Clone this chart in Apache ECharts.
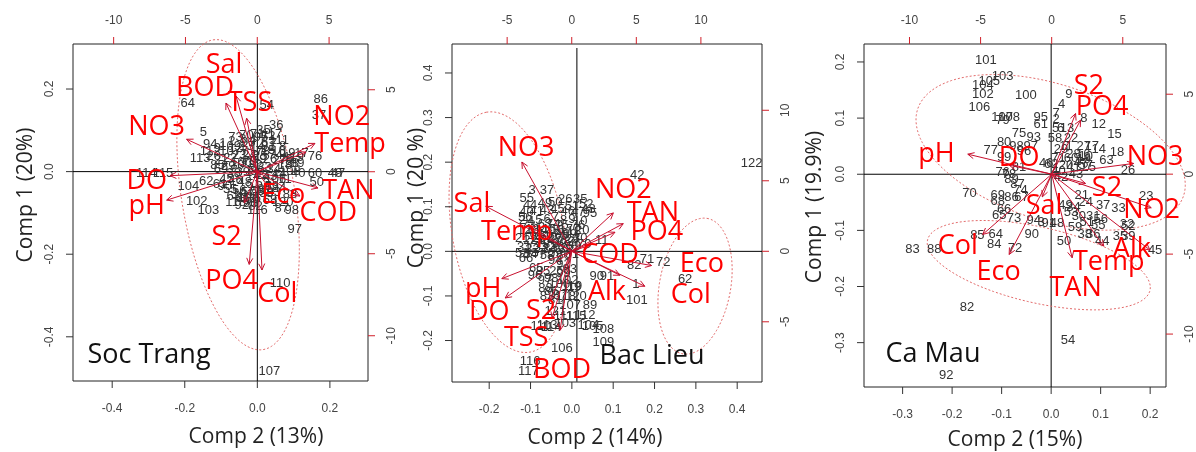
<!DOCTYPE html>
<html><head><meta charset="utf-8">
<script src="https://cdn.jsdelivr.net/npm/echarts@6/dist/echarts.min.js"></script>
<style>html,body{margin:0;padding:0;background:#fff}#c{width:1196px;height:452px}</style>
</head><body><div id="c"></div>
<script>
// ---------------- Soc Trang ----------------
const stName = 'Soc Trang', stTitleX = 'Comp 2 (13%)', stTitleY = 'Comp 1 (20%)';
const stBottomTicks = [-0.4, -0.2, 0, 0.2], stLeftTicks = [-0.4, -0.2, 0, 0.2];
const stTopTicks = [-10, -5, 0, 5], stRightTicks = [-10, -5, 0, 5];
const stPoints = [
 [64,-0.192,0.164],[54,0.026,0.161],[86,0.175,0.174],[37,0.170,0.137],[36,0.052,0.111],[35,0.017,0.099],[5,-0.149,0.094],
 [113,-0.158,0.032],[114,-0.306,-0.004],[115,-0.26,-0.004],[104,-0.190,-0.036],[62,-0.141,-0.024],[61,-0.103,-0.032],
 [102,-0.167,-0.073],[103,-0.135,-0.093],[92,-0.043,-0.081],[40,0.113,-0.004],[60,0.159,-0.004],[49,0.214,-0.004],[47,0.222,-0.004],
 [76,0.159,0.036],[17,0.122,0.044],[18,0.076,0.016],[50,0.164,-0.027],[97,0.103,-0.139],[98,0.095,-0.093],[87,0.067,-0.089],
 [110,0.063,-0.27],[107,0.033,-0.483],[105,-0.025,-0.062],[11,0.076,-0.02],[116,0.0,-0.095],[96,-0.02,-0.078],
 [1,-0.095,0.068],[2,-0.07,0.072],[3,-0.04,0.078],[4,-0.012,0.075],[6,0.02,0.07],[7,0.045,0.068],[8,0.07,0.062],[9,-0.11,0.055],
 [10,-0.085,0.05],[12,-0.06,0.056],[13,-0.03,0.06],[14,0.0,0.058],[15,0.03,0.052],[16,0.058,0.048],[19,0.085,0.045],[20,-0.12,0.036],
 [21,-0.1,0.028],[22,-0.075,0.032],[23,-0.05,0.038],[24,-0.022,0.04],[25,0.008,0.036],[26,0.035,0.03],[27,0.062,0.028],[28,0.095,0.02],
 [29,-0.08,0.012],[30,-0.055,0.016],[31,-0.03,0.02],[32,-0.005,0.014],[33,0.02,0.01],[34,0.045,0.006],[38,-0.065,-0.004],[39,-0.04,-0.002],
 [41,-0.015,-0.006],[42,0.01,-0.01],[43,0.035,-0.012],[44,0.06,-0.008],[45,-0.085,-0.018],[46,-0.06,-0.022],[48,-0.035,-0.026],
 [51,-0.01,-0.03],[52,0.015,-0.028],[53,0.04,-0.035],[55,-0.075,-0.042],[56,-0.05,-0.046],[57,-0.025,-0.05],[58,0.0,-0.048],
 [59,0.025,-0.054],[63,-0.065,-0.06],[65,-0.04,-0.064],[66,-0.015,-0.068],[67,0.01,-0.064],[68,0.035,-0.07],[69,-0.1,0.005],
 [70,-0.03,0.088],[71,0.0,0.09],[72,0.03,0.085],[73,-0.06,0.083],[74,0.05,0.04],[75,0.08,0.03],[77,-0.045,0.05],[78,0.015,0.048],
 [79,-0.02,0.024],[80,0.0,0.0],[81,0.02,-0.042],[82,-0.005,-0.085],[83,0.045,-0.05],[84,0.06,-0.04],[85,-0.11,0.015],[88,0.09,-0.055],
 [89,0.11,0.02],[90,-0.09,-0.035],[91,0.03,0.06],[93,-0.025,0.07],[94,-0.13,0.065],[95,0.01,0.082],[99,0.005,0.03],[100,-0.045,0.022],
 [101,-0.04,-0.055],[106,0.05,-0.02],[108,0.09,0.0],[109,-0.075,0.06],[111,0.06,0.075],[112,-0.13,0.05],[117,0.04,0.09],
 [118,-0.06,-0.075],[119,0.1,0.035],[120,0.07,-0.075]
];
const stLoadings = [
 ['Sal',-1.48,4.62],['BOD',-2.18,4.19],['TSS',-0.74,3.26],['NO3',-4.92,1.98],['NO2',4.02,1.73],['Temp',3.39,1.20],
 ['DO',-6.08,-0.24],['pH',-6.31,-1.73],['Eco',0.9,-1.1],['TAN',4.23,-0.99],['COD',2.97,-1.48],['S2',-0.9,-1.9],
 ['PO4',-0.56,-5.65],['Col',0.33,-5.99]
];
const stLabelPos = [
 ['Sal',-2.32,6.51],['BOD',-3.64,5.09],['TSS',-0.51,4.17],['NO3',-7.01,2.74],['NO2',5.88,3.32],['Temp',6.46,1.69],
 ['DO',-7.70,-0.61],['pH',-7.70,-2.13],['Eco',1.81,-1.42],['TAN',6.34,-1.22],['COD',4.94,-2.54],['S2',-2.13,-4.02],
 ['PO4',-1.78,-6.66],['Col',1.39,-7.48]
];
// ellipse: centre x, centre y, half-axis a (x,y), half-axis b (x,y)
const stEllipses = [[-0.053,-0.056,-0.069,0.375,0.154,0.022]];

// ---------------- Bac Lieu ----------------
const blName = 'Bac Lieu', blTitleX = 'Comp 2 (14%)', blTitleY = 'Comp 1 (20 %)';
const blBottomTicks = [-0.2,-0.1,0,0.1,0.2,0.3,0.4], blLeftTicks = [-0.2,-0.1,0,0.1,0.2,0.3,0.4];
const blTopTicks = [-5,0,5,10], blRightTicks = [-5,0,5,10];
const blPoints = [
 [122,0.435,0.197],[42,0.158,0.170],[3,-0.096,0.137],[37,-0.06,0.137],[55,-0.109,0.118],[26,-0.016,0.116],[35,0.02,0.116],
 [44,-0.101,0.103],[95,0.044,0.085],[56,-0.113,0.077],[11,0.072,0.025],[66,-0.111,-0.016],[94,-0.04,-0.02],[65,-0.086,-0.039],
 [96,-0.089,-0.054],[25,-0.037,-0.046],[82,0.151,-0.032],[71,0.182,-0.018],[72,0.221,-0.025],[62,0.274,-0.063],[90,0.06,-0.056],
 [91,0.085,-0.056],[1,0.155,-0.075],[101,0.157,-0.11],[119,0.0,-0.078],[89,0.044,-0.122],[108,0.076,-0.176],[109,0.076,-0.204],
 [106,-0.024,-0.217],[116,-0.101,-0.247],[117,-0.105,-0.269],[104,0.04,-0.166],[103,-0.016,-0.162],[113,-0.06,-0.166],
 [112,0.032,-0.143],[107,-0.004,-0.121],[87,-0.028,-0.099],[88,-0.064,-0.084],[114,-0.05,-0.17],[110,-0.075,-0.168],
 [111,-0.02,-0.145],[105,0.05,-0.168],[115,0.01,-0.146],[19,0.005,-0.08],[86,-0.05,-0.09],[83,-0.06,-0.1],[81,-0.04,-0.11],
 [85,-0.07,-0.045],[99,-0.02,-0.05],
 [2,-0.12,0.07],[4,-0.1,0.068],[5,-0.08,0.07],[6,-0.06,0.072],[7,-0.04,0.075],[8,-0.02,0.07],[9,0.0,0.072],[10,0.02,0.068],
 [12,-0.115,0.048],[13,-0.095,0.05],[14,-0.075,0.047],[15,-0.055,0.05],[16,-0.035,0.046],[17,-0.015,0.05],[18,0.005,0.045],[20,0.025,0.048],
 [21,-0.12,0.028],[22,-0.1,0.025],[23,-0.08,0.028],[24,-0.06,0.024],[27,-0.04,0.027],[28,-0.02,0.023],[29,0.0,0.026],[30,0.02,0.03],
 [31,-0.115,0.008],[32,-0.095,0.005],[33,-0.075,0.009],[34,-0.055,0.004],[36,-0.035,0.008],[38,-0.015,0.005],[39,0.005,0.01],
 [40,-0.11,0.088],[41,-0.085,0.09],[43,-0.06,0.092],[45,-0.035,0.094],[46,-0.01,0.09],[47,0.015,0.088],[48,0.04,0.094],
 [49,-0.065,0.108],[50,-0.04,0.11],[51,0.0,0.1],[52,0.035,0.105],
 [53,-0.12,-0.005],[54,-0.1,-0.008],[57,-0.08,-0.004],[58,-0.06,-0.01],[59,-0.04,-0.005],[60,-0.02,-0.01],[61,0.0,-0.006],
 [63,-0.065,0.06],[64,-0.085,0.038],[67,-0.045,0.038],[68,-0.025,0.036],[69,-0.005,0.038],[70,0.03,0.015],[73,-0.105,0.058],
 [74,-0.045,0.06],[75,-0.025,0.058],[76,0.015,0.058],[77,-0.09,0.018],[78,-0.07,0.016],[79,-0.05,0.016],[80,-0.03,0.018],[84,-0.01,0.016],
 [92,-0.02,-0.03],[93,-0.005,-0.04],[97,-0.065,-0.065],[98,-0.05,-0.06],[100,-0.03,-0.075],[102,-0.01,-0.065],[118,-0.015,-0.1],
 [120,0.01,-0.1],[121,-0.04,-0.135]
];
const blLoadings = [
 ['NO3',-3.86,6.33],['Sal',-6.65,3.19],['Temp',-3.3,1.8],['pH',-5.41,-1.94],['DO',-5.15,-3.31],['S2',-1.68,-3.48],
 ['TSS',-1.52,-4.75],['BOD',-0.9,-5.6],['NO2',3.22,2.72],['TAN',3.99,1.96],['PO4',3.35,1.35],['COD',1.42,0.43],
 ['Eco',6.18,-1.01],['Col',5.66,-2.48],['Alk',3.73,-1.7]
];
const blLabelPos = [
 ['NO3',-3.53,7.28],['Sal',-7.73,3.33],['Temp',-4.25,1.37],['pH',-6.85,-2.70],['DO',-6.39,-4.33],['S2',-2.37,-4.26],
 ['TSS',-3.53,-6.17],['BOD',-0.75,-8.44],['NO2',3.99,4.33],['TAN',6.28,2.70],['PO4',6.59,1.35],['COD',2.96,-0.28],
 ['Eco',10.07,-0.92],['Col',9.22,-3.12],['Alk',2.73,-2.91]
];
const blEllipses = [[-0.154,0.043,-0.053,0.269,0.133,0.022],[0.298,-0.078,0.029,0.152,0.085,-0.013]];

// ---------------- Ca Mau ----------------
const cmName = 'Ca Mau', cmTitleX = 'Comp 2 (15%)', cmTitleY = 'Comp 1 (19.9%)';
const cmBottomTicks = [-0.3,-0.2,-0.1,0,0.1,0.2], cmLeftTicks = [-0.3,-0.2,-0.1,0,0.1,0.2];
const cmTopTicks = [-10,-5,0,5], cmRightTicks = [-10,-5,0,5];
const cmPoints = [
 [101,-0.132,0.202],[103,-0.098,0.174],[105,-0.125,0.165],[104,-0.138,0.158],[102,-0.138,0.142],[100,-0.051,0.141],
 [106,-0.145,0.119],[107,-0.099,0.102],[108,-0.085,0.102],[79,-0.098,0.095],[95,-0.021,0.102],[61,-0.021,0.089],
 [9,0.036,0.142],[4,0.021,0.125],[7,0.01,0.108],[2,0.01,0.097],[8,0.066,0.099],[12,0.096,0.089],[15,0.128,0.071],
 [75,-0.065,0.072],[93,-0.035,0.065],[80,-0.095,0.057],[77,-0.122,0.043],[97,-0.041,0.05],[14,0.096,0.044],[18,0.133,0.039],
 [63,0.112,0.025],[26,0.155,0.007],[25,0.076,0.013],[76,-0.098,0.004],[70,-0.165,-0.034],[87,-0.068,-0.018],[74,-0.062,-0.028],
 [69,-0.108,-0.037],[68,-0.108,-0.049],[86,-0.08,-0.041],[67,-0.06,-0.042],[65,-0.105,-0.073],[23,0.192,-0.039],[33,0.136,-0.061],
 [21,0.062,-0.038],[32,0.153,-0.089],[85,-0.149,-0.109],[64,-0.112,-0.107],[84,-0.115,-0.125],[72,-0.073,-0.133],[90,-0.039,-0.107],
 [83,-0.28,-0.134],[88,-0.236,-0.134],[50,0.026,-0.119],[38,0.068,-0.107],[36,0.085,-0.107],[44,0.103,-0.119],[35,0.139,-0.11],
 [39,0.156,-0.11],[45,0.21,-0.135],[52,0.156,-0.093],[82,-0.17,-0.237],[54,0.034,-0.296],[92,-0.212,-0.358],[49,0.029,-0.055],
 [30,0.056,-0.076],[51,0.072,-0.086],[48,0.012,-0.088],[34,0.045,-0.06],[53,0.04,-0.068],[24,0.07,-0.05],[31,0.085,-0.075],
 [66,-0.095,-0.062],[73,-0.075,-0.078],[3,-0.02,-0.085],[91,-0.005,-0.088],[94,-0.035,-0.082],[5,0.009,0.081],[6,0.019,0.081],
 [13,0.032,0.081],[58,0.008,0.064],[22,0.04,0.064],[27,0.066,0.049],[17,0.082,0.05],[11,0.03,0.05],[16,0.065,0.036],[19,0.066,0.026],
 [10,0.07,0.031],[1,0.01,0.01],[20,0.03,0.016],[62,0.0,0.018],[40,0.015,0.005],[41,0.045,0.012],[42,0.02,-0.005],[43,0.05,0.0],
 [46,-0.01,0.02],[47,0.06,0.02],[57,0.07,0.015],[60,0.04,0.028],[71,0.015,0.028],[81,-0.065,0.013],[78,-0.085,0.0],[89,-0.08,-0.01],
 [96,-0.055,0.04],[98,-0.07,0.05],[99,-0.095,0.03],[28,0.045,0.035],[29,0.02,0.045],[37,0.105,-0.055],[55,0.095,-0.092],
 [59,0.048,-0.095],[56,0.1,-0.08]
];
const cmLoadings = [
 ['pH',-5.9,1.25],['DO',-2.99,0.56],['S2',1.68,3.79],['PO4',2.03,3.38],['NO3',5.76,0.67],['S2',2.38,-0.58],['NO2',7.0,-2.1],
 ['Alk',6.92,-4.75],['Temp',3.66,-4.5],['TAN',1.44,-5.23],['Sal',-0.66,-1.42],['Col',-4.85,-3.77],['Eco',-2.99,-5.02]
];
const cmLabelPos = [
 ['pH',-8.11,1.25],['DO',-2.29,0.98],['S2',2.61,5.5],['PO4',3.54,4.17],['NO3',7.27,1.04],['S2',3.89,-0.89],['NO2',7.03,-2.25],
 ['Alk',5.64,-4.71],['Temp',4.01,-5.54],['TAN',1.68,-7.11],['Sal',-0.54,-2.04],['Col',-6.6,-4.5],['Eco',-3.73,-6.13]
];
const cmEllipses = [[-0.001,0.039,0.269,-0.039,-0.040,0.133],[-0.025,-0.162,0.225,-0.036,-0.012,0.071]];

// ---------------- layout (not data) ----------------
const PANELS = [
 {name:stName, tx:stTitleX, ty:stTitleY, pts:stPoints, load:stLoadings, lab:stLabelPos, ell:stEllipses,
  bt:stBottomTicks, lt:stLeftTicks, tt:stTopTicks, rt:stRightTicks,
  grid:{left:73,top:44,width:295,height:337}, px:[-0.508,0.305], py:[-0.507,0.309], sx:[-12.83,7.71], sy:[-12.76,7.79],
  vline:0, vcol:'#000', vw:1, vtopGap:0, titleXPos:[256,437], titleYPos:[26,195], namePos:[149,355]},
 {name:blName, tx:blTitleX, ty:blTitleY, pts:blPoints, load:blLoadings, lab:blLabelPos, ell:blEllipses,
  bt:blBottomTicks, lt:blLeftTicks, tt:blTopTicks, rt:blRightTicks,
  grid:{left:452,top:44,width:310,height:338}, px:[-0.290,0.460], py:[-0.293,0.465], sx:[-9.27,14.73], sy:[-9.27,14.70],
  vline:0.012, vcol:'#555', vw:1.5, vtopGap:4, titleXPos:[595,438], titleYPos:[417,198], namePos:[652,356]},
 {name:cmName, tx:cmTitleX, ty:cmTitleY, pts:cmPoints, load:cmLoadings, lab:cmLabelPos, ell:cmEllipses,
  bt:cmBottomTicks, lt:cmLeftTicks, tt:cmTopTicks, rt:cmRightTicks,
  grid:{left:864,top:44,width:304,height:343}, px:[-0.378,0.232], py:[-0.379,0.232], sx:[-13.2,8.04], sy:[-13.31,8.14],
  vline:0, vcol:'#000', vw:1, vtopGap:0, titleXPos:[1015,440], titleYPos:[815,207], namePos:[933,354]}
];

const TICKFONT = '"Liberation Sans", Arial, sans-serif';
const TITLEFONT = '"Open Sans", "Noto Sans", sans-serif';
const RED = '#ff0000', ARROW = '#c8102e', ELL = '#e36b6b', TICKRED = '#d0202a', TICKBLK = '#333';
const TL = 7;

const grids = [], xAxes = [], yAxes = [], series = [], graphics = [];
const f1 = v => (Math.abs(v) < 1e-9 ? 0 : v).toFixed(1);
const f0 = v => String(Math.round(v));

// tick marks: the tick value is placed through the axis scale, the other end sits on the plot frame
function tickSeries(xi, yi, values, side, color) {
  return {type:'custom', xAxisIndex:xi, yAxisIndex:yi, silent:true, z:6, clip:false,
    data:values.map(v => [v]), dimensions:['v'],
    renderItem:(params, api) => {
      const cs = params.coordSys, v = api.value(0);
      let x1, y1, x2, y2;
      if (side === 'bottom') { x1 = x2 = api.coord([v, 0])[0]; y1 = cs.y + cs.height; y2 = y1 + TL; }
      else if (side === 'top') { x1 = x2 = api.coord([v, 0])[0]; y1 = cs.y; y2 = y1 - TL; }
      else if (side === 'left') { y1 = y2 = api.coord([0, v])[1]; x1 = cs.x; x2 = x1 - TL; }
      else { y1 = y2 = api.coord([0, v])[1]; x1 = cs.x + cs.width; x2 = x1 + TL; }
      return {type:'line', shape:{x1, y1, x2, y2}, style:{stroke:color, lineWidth:1}};
    }};
}

PANELS.forEach((P, i) => {
  grids.push(Object.assign({show:true, borderColor:'#222', borderWidth:1, backgroundColor:'transparent'}, P.grid));
  const xb = 2*i, xt = 2*i+1;
  const common = (ticks, fmt, margin, rot) => ({
    axisLine:{show:false, onZero:false}, splitLine:{show:false}, axisTick:{show:false}, minorTick:{show:false},
    axisLabel:{show:true, customValues:ticks, formatter:fmt, color:'#444', fontSize:12, fontFamily:TICKFONT, margin:margin, rotate:rot}
  });
  xAxes.push(Object.assign({gridIndex:i, type:'value', position:'bottom', min:P.px[0], max:P.px[1]}, common(P.bt, f1, 22, 0)));
  xAxes.push(Object.assign({gridIndex:i, type:'value', position:'top', min:P.sx[0], max:P.sx[1]}, common(P.tt, f0, 17, 0)));
  yAxes.push(Object.assign({gridIndex:i, type:'value', position:'left', min:P.py[0], max:P.py[1]}, common(P.lt, f1, 17, 90)));
  yAxes.push(Object.assign({gridIndex:i, type:'value', position:'right', min:P.sy[0], max:P.sy[1]}, common(P.rt, f0, 18, 90)));

  series.push(tickSeries(xb, xb, P.bt, 'bottom', TICKBLK));
  series.push(tickSeries(xb, xb, P.lt, 'left', TICKBLK));
  series.push(tickSeries(xt, xt, P.tt, 'top', TICKRED));
  series.push(tickSeries(xt, xt, P.rt, 'right', TICKRED));

  // reference lines through origin, spanning the plot frame
  series.push({type:'custom', xAxisIndex:xb, yAxisIndex:xb, silent:true, z:1, data:[[0,0]],
    renderItem:(params, api) => {
      const cs = params.coordSys, o = api.coord([P.vline, 0]), h = api.coord([0, 0]);
      return {type:'group', children:[
        {type:'line', shape:{x1:cs.x, y1:h[1], x2:cs.x+cs.width, y2:h[1]}, style:{stroke:'#000', lineWidth:1}},
        {type:'line', shape:{x1:o[0], y1:cs.y+P.vtopGap, x2:o[0], y2:cs.y+cs.height}, style:{stroke:P.vcol, lineWidth:P.vw}}
      ]};
    }});

  // ellipses
  series.push({type:'custom', xAxisIndex:xb, yAxisIndex:xb, silent:true, z:2, clip:false,
    data:P.ell.map(e => [e[0], e[1]]), encode:{x:0,y:1},
    renderItem:(params, api) => {
      const e = P.ell[params.dataIndex]; const pts = [];
      for (let k = 0; k <= 120; k++) {
        const t = k/120*2*Math.PI;
        pts.push(api.coord([e[0]+e[2]*Math.cos(t)+e[4]*Math.sin(t), e[1]+e[3]*Math.cos(t)+e[5]*Math.sin(t)]));
      }
      return {type:'polyline', shape:{points:pts}, style:{stroke:ELL, lineWidth:1, lineDash:[2,2], fill:null}};
    }});

  // observation numbers
  series.push({type:'custom', xAxisIndex:xb, yAxisIndex:xb, silent:true, z:3,
    data:P.pts.map(p => [p[1], p[2]]), encode:{x:0,y:1},
    renderItem:(params, api) => {
      const c = api.coord([api.value(0), api.value(1)]);
      return {type:'text', x:c[0], y:c[1], style:{text:String(P.pts[params.dataIndex][0]), fill:'#333',
        fontSize:13, fontFamily:TICKFONT, align:'center', verticalAlign:'middle'}};
    }});

  // loading arrows (secondary axes)
  series.push({type:'custom', xAxisIndex:xt, yAxisIndex:xt, silent:true, z:4, clip:false,
    data:P.load.map(l => [l[1], l[2]]), encode:{x:0,y:1},
    renderItem:(params, api) => {
      const o = api.coord([0,0]), t = api.coord([api.value(0), api.value(1)]);
      const ang = Math.atan2(t[1]-o[1], t[0]-o[0]), L = 7, A = Math.PI/7;
      const h1 = [t[0]-L*Math.cos(ang-A), t[1]-L*Math.sin(ang-A)];
      const h2 = [t[0]-L*Math.cos(ang+A), t[1]-L*Math.sin(ang+A)];
      return {type:'group', children:[
        {type:'line', shape:{x1:o[0],y1:o[1],x2:t[0],y2:t[1]}, style:{stroke:ARROW, lineWidth:1}},
        {type:'polyline', shape:{points:[h1,t,h2]}, style:{stroke:ARROW, lineWidth:1, fill:null}}
      ]};
    }});

  // variable names
  series.push({type:'custom', xAxisIndex:xt, yAxisIndex:xt, silent:true, z:5, clip:false,
    data:P.lab.map(l => [l[1], l[2]]), encode:{x:0,y:1},
    renderItem:(params, api) => {
      const c = api.coord([api.value(0), api.value(1)]);
      return {type:'text', x:c[0], y:c[1], style:{text:P.lab[params.dataIndex][0], fill:RED,
        fontSize:27, fontFamily:TITLEFONT, align:'center', verticalAlign:'middle'}};
    }});

  graphics.push({type:'text', x:P.titleXPos[0], y:P.titleXPos[1], style:{text:P.tx, fill:'#222', fontSize:21, fontFamily:TITLEFONT, align:'center', verticalAlign:'middle'}});
  graphics.push({type:'text', x:P.titleYPos[0], y:P.titleYPos[1], rotation:Math.PI/2, style:{text:P.ty, fill:'#222', fontSize:21, fontFamily:TITLEFONT, align:'center', verticalAlign:'middle'}});
  graphics.push({type:'text', x:P.namePos[0], y:P.namePos[1], z:10, style:{text:P.name, fill:'#111', fontSize:27, fontFamily:TITLEFONT, align:'center', verticalAlign:'middle'}});
});

const chart = echarts.init(document.getElementById('c'), null, {renderer:'canvas'});
chart.setOption({animation:false, backgroundColor:'#fff', grid:grids, xAxis:xAxes, yAxis:yAxes, series:series, graphic:graphics});
</script></body></html>
